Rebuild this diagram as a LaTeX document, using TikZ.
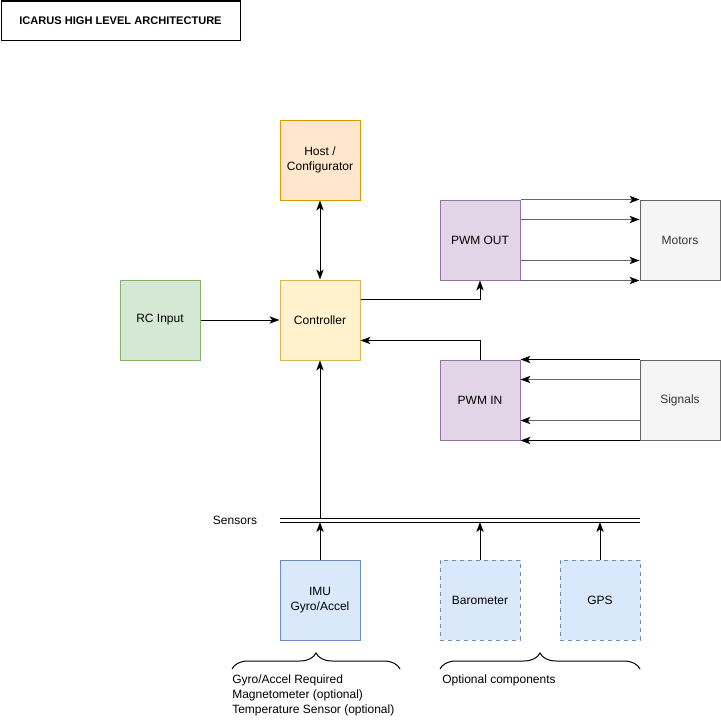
\documentclass[tikz,border=0pt]{standalone}
\usepackage{fontspec}
\setmainfont{Liberation Sans}
\usetikzlibrary{arrows.meta,calc,decorations.pathreplacing}
\definecolor{hostfill}{HTML}{FFE6CC}\definecolor{hostdraw}{HTML}{D79B00}
\definecolor{ctrlfill}{HTML}{FFF2CC}\definecolor{ctrldraw}{HTML}{D6B656}
\definecolor{greenfill}{HTML}{D5E8D4}\definecolor{greendraw}{HTML}{82B366}
\definecolor{purplefill}{HTML}{E1D5E7}\definecolor{purpledraw}{HTML}{9673A6}
\definecolor{grayfill}{HTML}{F5F5F5}\definecolor{graydraw}{HTML}{666666}
\definecolor{grayfont}{HTML}{333333}
\definecolor{bluefill}{HTML}{DAE8FC}\definecolor{bluedraw}{HTML}{6C8EBF}
\begin{document}
\begin{tikzpicture}[x=0.75pt,y=-0.75pt,
  every node/.style={font=\fontsize{9}{11}\selectfont},
  box/.style={draw, line width=0.75pt, minimum width=60pt, minimum height=60pt, inner sep=0pt, align=center},
  host/.style={box, fill=hostfill, draw=hostdraw},
  ctrl/.style={box, fill=ctrlfill, draw=ctrldraw},
  green/.style={box, fill=greenfill, draw=greendraw},
  purple/.style={box, fill=purplefill, draw=purpledraw},
  grey/.style={box, fill=grayfill, draw=graydraw, text=grayfont},
  blue/.style={box, fill=bluefill, draw=bluedraw},
  optional/.style={blue, dashed},
  conn/.style={line width=0.75pt, -{Stealth[length=7.5pt,width=5.5pt,inset=2pt]}},
  gconn/.style={line width=0.75pt, draw=graydraw, -{Stealth[length=7.5pt,width=5.5pt,inset=2pt,black]}},
  bconn/.style={line width=0.75pt, {Stealth[length=7.5pt,width=5.5pt,inset=2pt]}-{Stealth[length=7.5pt,width=5.5pt,inset=2pt]}},
  brace/.style={line width=0.75pt, decorate, decoration={brace, amplitude=12pt}},
  note/.style={align=left, anchor=north west, inner sep=0pt}
]
\useasboundingbox (0,0) rectangle (721,721);
\node[draw, line width=0.75pt, minimum width=179.25pt, minimum height=29.25pt, font=\fontsize{8.3}{10}\selectfont\bfseries] (title) at (120.5,20.5) {ICARUS HIGH LEVEL ARCHITECTURE};

\node[host] (host) at (320,160) {Host /\\Configurator};
\node[ctrl] (ctrl) at (320,320) {Controller};
\node[green] (rc) at (160,320) {RC Input};
\node[purple] (pwmout) at (480,240) {PWM OUT};
\node[grey] (motors) at (680,240) {Motors};
\node[purple] (pwmin) at (480,400) {PWM IN};
\node[grey] (signals) at (680,400) {Signals};
\node[blue] (imu) at (320,600) {IMU\\Gyro/Accel};
\node[optional] (baro) at (480,600) {Barometer};
\node[optional] (gps) at (600,600) {GPS};

% sensors bus
\coordinate (busL) at (280,520);
\coordinate (busR) at (640,520);
\draw[line width=0.75pt, double, double distance=2.25pt] (busL) -- (busR);
\node[anchor=center] (sensors) at (235,520) {Sensors};
\coordinate (busImu) at (320,522);
\coordinate (busCtrl) at (320,518);
\coordinate (busBaro) at (480,522);
\coordinate (busGps) at (600,522);

\draw[conn] (imu.north) -- (busImu);
\draw[conn] (busCtrl) -- (ctrl.south);
\draw[conn] (baro.north) -- (busBaro);
\draw[conn] (gps.north) -- (busGps);

\draw[bconn] (host.south) -- (ctrl.north);
\draw[conn] (rc.east) -- (ctrl.east -| ctrl.west);
\draw[conn] ($(ctrl.north east)+(0,20)$) -| (pwmout.south);
\draw[conn] (pwmin.north) |- ($(ctrl.south east)+(0,-20)$);

% motors
\draw[gconn] (pwmout.north east) -- (motors.north west);
\draw[gconn] ($(pwmout.north east)+(0,20)$) -- ($(motors.north west)+(0,20)$);
\draw[gconn] ($(pwmout.south east)+(0,-20)$) -- ($(motors.south west)+(0,-20)$);
\draw[gconn] (pwmout.south east) -- (motors.south west);

% signals
\draw[conn] (signals.north west) -- (pwmin.north east);
\draw[gconn] ($(signals.north west)+(0,20)$) -- ($(pwmin.north east)+(0,20)$);
\draw[gconn] ($(signals.south west)+(0,-20)$) -- ($(pwmin.south east)+(0,-20)$);
\draw[conn] (signals.south west) -- (pwmin.south east);

% braces
\coordinate (b1L) at (232,669);
\coordinate (b1R) at (400,669);
\coordinate (b2L) at (440,669);
\coordinate (b2R) at (640,669);
\draw[brace] (b1L) -- (b1R);
\draw[brace] (b2L) -- (b2R);
\node[note] (req) at (232,675) {Gyro/Accel Required\\Magnetometer (optional)\\Temperature Sensor (optional)};
\node[note] (opt) at (442,675) {Optional components};
\end{tikzpicture}
\end{document}
